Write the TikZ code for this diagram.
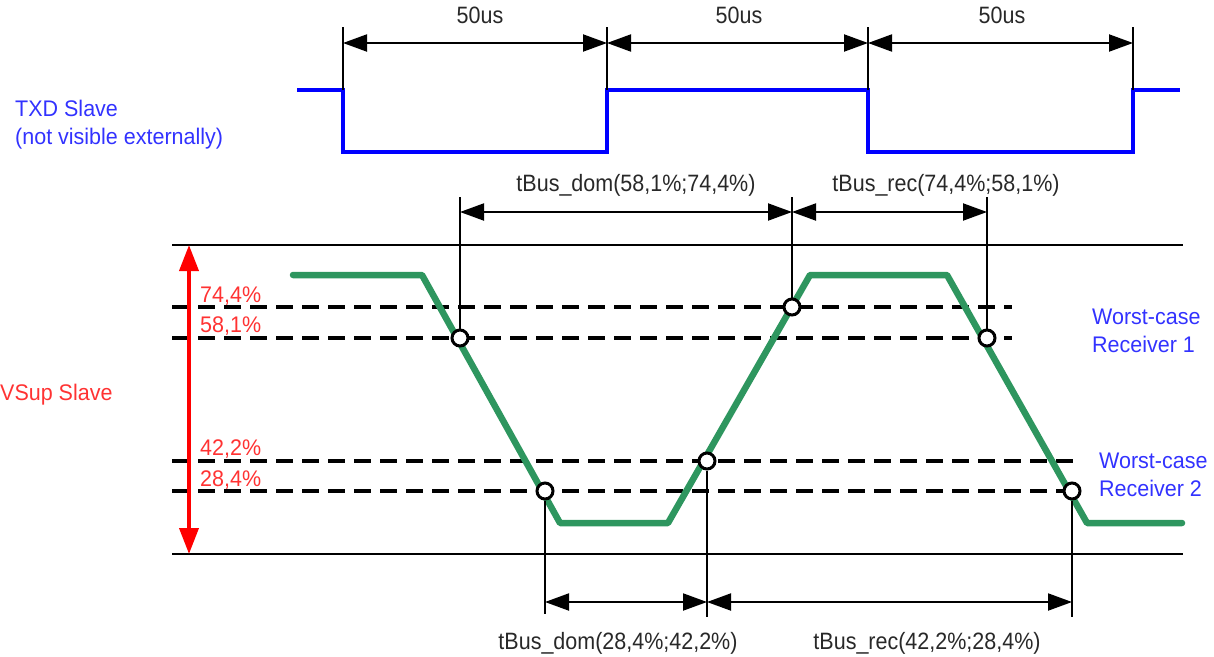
\documentclass[tikz,border=0pt]{standalone}
\usepackage{fontspec}
\setmainfont{Liberation Sans}
\usetikzlibrary{arrows.meta}
\definecolor{txdblue}{RGB}{0,0,255}
\definecolor{lblblue}{RGB}{50,50,255}
\definecolor{vred}{RGB}{255,0,0}
\definecolor{lblred}{RGB}{255,50,50}
\definecolor{sig}{RGB}{46,150,95}
\definecolor{txtgray}{RGB}{40,40,40}
\begin{document}
\begin{tikzpicture}[x=1pt,y=-1pt,
  lbl/.style={font=\fontsize{21.5}{26}\selectfont, inner sep=0pt, text=txtgray, yscale=1.1},
  bluelbl/.style={font=\fontsize{21.5}{26.5}\selectfont, inner sep=0pt, text=lblblue, align=left, anchor=west, yscale=1.05},
  redlbl/.style={font=\fontsize{21.5}{26}\selectfont, inner sep=0pt, text=lblred, anchor=west, yscale=1.05},
  dimline/.style={line width=2pt, {Triangle[length=24pt,width=17pt]}-{Triangle[length=24pt,width=17pt]}},
  extline/.style={line width=2.4pt},
  refline/.style={line width=2.8pt},
  thrline/.style={line width=3.2pt, dash pattern=on 17pt off 9pt},
  crosspt/.style={circle, draw=black, fill=white, line width=3pt, minimum size=16pt, inner sep=0pt},
  txdline/.style={draw=txdblue, line width=3.2pt},
  sigline/.style={draw=sig, line width=6.5pt, line join=round, line cap=round},
  vsup/.style={draw=vred, line width=3.8pt, {Triangle[length=26pt,width=19pt]}-{Triangle[length=26pt,width=19pt]}}
]
\useasboundingbox (0,0) rectangle (1214,656);

% ---------------- TXD slave ----------------
\draw[txdline] (297,90) -- (343,90) -- (343,152) -- (607,152) -- (607,90) -- (868,90) -- (868,152) -- (1133,152) -- (1133,90) -- (1180,90);
\coordinate (t1) at (343,27); \coordinate (t1b) at (343,90);
\coordinate (t2) at (607,27); \coordinate (t2b) at (607,90);
\coordinate (t3) at (868,27); \coordinate (t3b) at (868,90);
\coordinate (t4) at (1133,27); \coordinate (t4b) at (1133,90);
\foreach \i in {1,...,4} \draw[extline] (t\i) -- (t\i b);
\coordinate (a1) at (343,43); \coordinate (a2) at (607,43);
\coordinate (a3) at (868,43); \coordinate (a4) at (1133,43);
\draw[dimline] (a1) -- (a2);
\draw[dimline] (a2) -- (a3);
\draw[dimline] (a3) -- (a4);
\node[lbl] (us1) at (480,15) {50us};
\node[lbl] (us2) at (739,15) {50us};
\node[lbl] (us3) at (1002,15) {50us};
\node[bluelbl] (txd) at (15,125) {TXD Slave\\(not visible externally)};

% ---------------- reference lines ----------------
\coordinate (top0) at (172,245); \coordinate (top1) at (1183,245);
\coordinate (bot0) at (172,554); \coordinate (bot1) at (1183,554);
\draw[refline] (top0) -- (top1);
\draw[refline] (bot0) -- (bot1);
\coordinate (h1a) at (172,307); \coordinate (h1b) at (1012,307);
\coordinate (h2a) at (172,338); \coordinate (h2b) at (1012,338);
\coordinate (h3a) at (172,461); \coordinate (h3b) at (1074,461);
\coordinate (h4a) at (172,491); \coordinate (h4b) at (1066,491);
\draw[thrline] (h1a) -- (h1b);
\draw[thrline] (h2a) -- (h2b);
\draw[thrline] (h3a) -- (h3b);
\draw[thrline] (h4a) -- (h4b);

% ---------------- VSup ----------------
\coordinate (v0) at (189,245); \coordinate (v1) at (189,554);
\draw[vsup] (v0) -- (v1);
\node[redlbl] (vsuplbl) at (0,395) {VSup Slave};
\node[redlbl] (l744) at (200,296) {74,4\%};
\node[redlbl] (l581) at (200,326) {58,1\%};
\node[redlbl] (l422) at (200,449) {42,2\%};
\node[redlbl] (l284) at (200,480) {28,4\%};

% ---------------- signal ----------------
\draw[sigline] (293,275) -- (422,275) -- (560,523) -- (668,523) -- (810,275) -- (947,275) -- (1087,523) -- (1182,523);

% ---------------- crossing points ----------------
\node[crosspt] (p1) at (460,338) {};
\node[crosspt] (p2) at (545,491) {};
\node[crosspt] (p3) at (707,461) {};
\node[crosspt] (p4) at (792,307) {};
\node[crosspt] (p5) at (987,338) {};
\node[crosspt] (p6) at (1072,491) {};

% upper measurement
\coordinate (u1) at (460,197); \coordinate (u4) at (792,197); \coordinate (u5) at (987,197);
\draw[extline] (p1.north) -- (u1);
\draw[extline] (p4.north) -- (u4);
\draw[extline] (p5.north) -- (u5);
\coordinate (ua1) at (460,212); \coordinate (ua4) at (792,212); \coordinate (ua5) at (987,212);
\draw[dimline] (ua1) -- (ua4);
\draw[dimline] (ua4) -- (ua5);
\node[lbl] (td1) at (636,185) {tBus\_dom(58,1\%;74,4\%)};
\node[lbl] (tr1) at (946,185) {tBus\_rec(74,4\%;58,1\%)};

% lower measurement
\coordinate (b2) at (545,614); \coordinate (b3) at (707,617); \coordinate (b6) at (1072,617);
\draw[extline] (p2.south) -- (b2);
\draw[extline] (p3.south) -- (b3);
\draw[extline] (p6.south) -- (b6);
\coordinate (ba2) at (545,602); \coordinate (ba3) at (707,602); \coordinate (ba6) at (1072,602);
\draw[dimline] (ba2) -- (ba3);
\draw[dimline] (ba3) -- (ba6);
\node[lbl] (td2) at (618,643) {tBus\_dom(28,4\%;42,2\%)};
\node[lbl] (tr2) at (927,643) {tBus\_rec(42,2\%;28,4\%)};

% receivers
\node[bluelbl] (rx1) at (1092,331) {Worst-case\\Receiver 1};
\node[bluelbl] (rx2) at (1099,475) {Worst-case\\Receiver 2};
\end{tikzpicture}
\end{document}
